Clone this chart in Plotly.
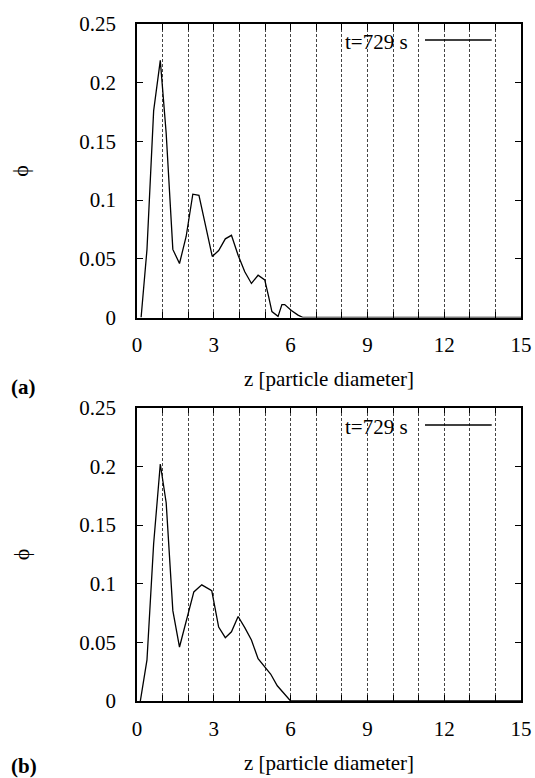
import plotly.graph_objects as go

# ---- data ----
z_a = [0.16, 0.39, 0.65, 0.91, 1.14, 1.40, 1.66, 1.92, 2.18, 2.42, 2.68, 2.94,
       3.19, 3.45, 3.69, 3.95, 4.21, 4.47, 4.73, 4.99, 5.14, 5.27, 5.51, 5.66,
       5.77, 6.03, 6.29, 6.49, 15.0]
phi_a = [0.0, 0.058, 0.176, 0.219, 0.157, 0.058, 0.046, 0.069, 0.105, 0.104,
         0.078, 0.052, 0.057, 0.067, 0.070, 0.053, 0.039, 0.029, 0.036, 0.032,
         0.018, 0.005, 0.001, 0.011, 0.011, 0.006, 0.002, 0.0, 0.0]

z_b = [0.13, 0.39, 0.65, 0.91, 1.14, 1.40, 1.66, 1.92, 2.22, 2.53, 2.92, 3.19,
       3.45, 3.69, 3.95, 4.21, 4.47, 4.73, 4.99, 5.22, 5.48, 5.74, 6.0, 15.0]
phi_b = [0.0, 0.035, 0.134, 0.202, 0.169, 0.077, 0.046, 0.067, 0.093, 0.099,
         0.094, 0.063, 0.054, 0.059, 0.072, 0.0625, 0.052, 0.036, 0.029, 0.023,
         0.013, 0.006, 0.0, 0.0]

x_tickvals = list(range(16))
x_ticktext = [str(v) if v % 3 == 0 else "" for v in x_tickvals]
y_tickvals = [0, 0.05, 0.1, 0.15, 0.2, 0.25]
y_ticktext = ["0", "0.05", "0.1", "0.15", "0.2", "0.25"]
legend_label = "t=729 s"
x_title = "z [particle diameter]"
y_title = "ϕ"
panel_labels = ["(a)", "(b)"]

FONT = "Liberation Serif"
W, H = 535, 778

fig = go.Figure()
fig.add_trace(go.Scatter(x=z_a, y=phi_a, mode="lines", xaxis="x", yaxis="y",
                         line=dict(color="black", width=1.3), name=legend_label,
                         showlegend=False))
fig.add_trace(go.Scatter(x=z_b, y=phi_b, mode="lines", xaxis="x2", yaxis="y2",
                         line=dict(color="black", width=1.3), name=legend_label,
                         showlegend=False))

px_l, px_r = 137, 521
dom_x = [px_l / W, px_r / W]
dom_a = [1 - 317.5 / H, 1 - 24 / H]
dom_b = [1 - 701 / H, 1 - 407.7 / H]

def xax(anchor):
    return dict(range=[0, 15], tickvals=x_tickvals, ticktext=x_ticktext,
                ticks="inside", ticklen=6, tickwidth=1, tickcolor="black",
                showline=True, linecolor="black", linewidth=1.5, mirror="ticks",
                showgrid=True, gridcolor="#444444", gridwidth=1, griddash="3px,2px",
                zeroline=False, tickfont=dict(family=FONT, size=21, color="black"),
                ticklabelstandoff=8, domain=dom_x, anchor=anchor,
                title=dict(text=x_title, font=dict(family=FONT, size=21, color="black")),
                automargin=False, fixedrange=True)

def yax(domain, anchor):
    return dict(range=[0, 0.25], tickvals=y_tickvals, ticktext=y_ticktext,
                ticks="inside", ticklen=6, tickwidth=1, tickcolor="black",
                showline=True, linecolor="black", linewidth=1.5, mirror="ticks",
                showgrid=False, zeroline=False,
                tickfont=dict(family=FONT, size=21, color="black"),
                ticklabelstandoff=15, domain=domain, anchor=anchor,
                automargin=False, fixedrange=True)

fig.update_layout(
    width=W, height=H,
    margin=dict(l=0, r=0, t=0, b=0, autoexpand=False),
    paper_bgcolor="white", plot_bgcolor="white",
    font=dict(family=FONT, size=21, color="black"),
    xaxis=xax("y"), yaxis=yax(dom_a, "x"),
    xaxis2=xax("y2"), yaxis2=yax(dom_b, "x2"),
    showlegend=False,
)

# y-axis titles (rotated phi), placed like the reference
for dom in (dom_a, dom_b):
    fig.add_annotation(text=y_title, xref="paper", yref="paper",
                       x=21 / W, y=(dom[0] + dom[1]) / 2, xanchor="center",
                       yanchor="middle", textangle=-90, showarrow=False,
                       font=dict(family=FONT, size=22, color="black"))

# legend-like key (text followed by line sample), one per panel
for ytxt, yline in [(1 - 42 / H, 1 - 40 / H), (1 - 426.7 / H, 1 - 425 / H)]:
    fig.add_annotation(text=legend_label, xref="paper", yref="paper",
                       x=410 / W, y=ytxt, xanchor="right", yanchor="middle",
                       showarrow=False, font=dict(family=FONT, size=21, color="black"))
    fig.add_shape(type="line", xref="paper", yref="paper",
                  x0=425 / W, x1=491.7 / W, y0=yline, y1=yline,
                  line=dict(color="black", width=1.3))

for lab, yy in zip(panel_labels, [1 - 386.5 / H, 1 - 765.5 / H]):
    fig.add_annotation(text="<b>" + lab + "</b>", xref="paper", yref="paper",
                       x=9 / W, y=yy, xanchor="left", yanchor="middle",
                       showarrow=False, font=dict(family=FONT, size=21, color="black"))

fig.write_html("out.html", config={"displayModeBar": False},
               post_script="document.body.style.margin='0';document.body.style.padding='0';")
